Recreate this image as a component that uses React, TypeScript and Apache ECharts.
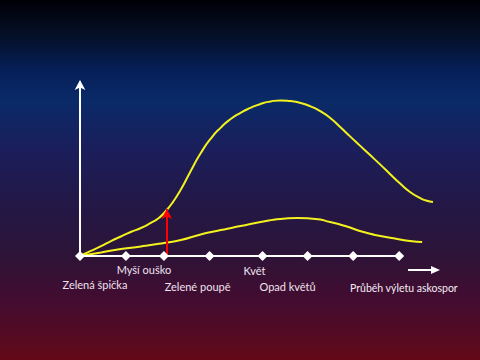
import React, { useEffect, useRef } from "react";
import * as echarts from "echarts";

// Stage positions along the time axis (0..100) and their names
const stageX = [0, 14.4, 26.3, 40.6, 57.2, 71.3, 85.6, 100];
const stageNames = ["", "Zelená špička", "Myší ouško", "Zelené poupě", "Květ", "Opad květů", "", ""];

// Upper curve [x, y]
const upperCurve: number[][] = [
  [0, 0], [3.4, 2.9], [6.6, 5.7], [9.7, 8.6], [12.8, 11.2], [15.9, 13.8],
  [19.1, 16.1], [22.2, 19.0], [24.7, 21.8], [26.9, 25.9], [29.1, 31.0],
  [31.6, 38.2], [34.7, 48.9], [37.8, 59.0], [40.9, 67.3], [44.1, 73.8],
  [47.2, 78.7], [50.3, 82.3], [53.4, 85.1], [56.6, 87.4], [59.7, 88.8],
  [62.8, 89.4], [65.9, 89.1], [69.1, 87.9], [72.2, 86.0], [75.3, 83.2],
  [78.4, 79.3], [81.6, 74.0], [84.7, 68.6], [87.8, 63.3], [90.9, 58.0],
  [94.1, 52.5], [97.2, 47.0], [100.3, 41.6], [103.4, 36.8], [106.6, 33.3],
  [108.4, 31.9], [110.6, 31.0],
];

// Lower curve [x, y]
const lowerCurve: number[][] = [
  [0, 0], [6.6, 2.0], [12.8, 4.0], [19.1, 5.5], [26.3, 7.5], [31.6, 9.2],
  [37.8, 12.4], [44.1, 14.9], [50.3, 17.2], [56.6, 19.5], [62.8, 21.3],
  [68.1, 21.8], [73.8, 21.3], [78.4, 19.5], [83.1, 17.2], [88.8, 13.8],
  [94.1, 11.5], [99.4, 9.8], [103.4, 8.6], [107.2, 8.0],
];

// Red arrow: stage x and height
const redArrowX = 27.2;
const redArrowTop = 27;

const axisTitle = "Průběh výletu askospor";

export default function App() {
  const ref = useRef<HTMLDivElement>(null);
  useEffect(() => {
    if (!ref.current) return;
    const chart = echarts.init(ref.current, undefined, { renderer: "svg" });
    const font = "Lato, 'Open Sans', sans-serif";
    // label placement relative to each diamond (staggered rows, in px)
    const labelOffsets: number[][] = [
      [0, 0], [-31, 28], [-20, 13], [-12, 30], [-8, 14], [-20, 30], [0, 0], [0, 0],
    ];
    chart.setOption({
      animation: false,
      backgroundColor: {
        type: "linear", x: 0, y: 0, x2: 0, y2: 1,
        colorStops: [
          { offset: 0, color: "#000006" },
          { offset: 0.1, color: "#051028" },
          { offset: 0.2, color: "#05205a" },
          { offset: 0.28, color: "#0a2a68" },
          { offset: 0.42, color: "#1b1e5a" },
          { offset: 0.55, color: "#221848" },
          { offset: 0.7, color: "#2c1438" },
          { offset: 0.83, color: "#420c30" },
          { offset: 0.94, color: "#560b22" },
          { offset: 1, color: "#640818" },
        ],
      },
      grid: { left: 80, right: 17, top: 82, bottom: 104 },
      xAxis: {
        type: "value", min: 0, max: 120,
        axisLine: { show: false }, axisTick: { show: false },
        axisLabel: { show: false }, splitLine: { show: false },
      },
      yAxis: {
        type: "value", min: 0, max: 100,
        axisLine: {
          show: true, onZero: false,
          lineStyle: { color: "#ffffff", width: 2 },
          symbol: ["none", "arrow"], symbolSize: [8, 10], symbolOffset: [0, 2],
        },
        axisTick: { show: false }, axisLabel: { show: false }, splitLine: { show: false },
      },
      graphic: [
        {
          type: "line", shape: { x1: 408, y1: 270, x2: 434, y2: 270 },
          style: { stroke: "#ffffff", lineWidth: 2 },
        },
        {
          type: "polygon", shape: { points: [[431, 266], [440, 270], [431, 274]] },
          style: { fill: "#ffffff" },
        },
        {
          type: "text", left: 350, top: 282,
          style: { text: axisTitle, fill: "#f4ecf4", font: `10.5px ${font}` },
        },
      ],
      series: [
        {
          type: "line", data: upperCurve, smooth: 0.6, showSymbol: false,
          lineStyle: { color: "#f2f21e", width: 2 }, z: 3,
        },
        {
          type: "line", data: lowerCurve, smooth: 0.6, showSymbol: false,
          lineStyle: { color: "#f2f21e", width: 2 }, z: 3,
        },
        {
          type: "line",
          data: stageX.map((x) => [x, 0]),
          showSymbol: false,
          lineStyle: { color: "#ffffff", width: 2 },
          z: 4,
          markLine: {
            silent: true, symbol: ["none", "arrow"], symbolSize: [8, 10],
            label: { show: false },
            lineStyle: { color: "#ff0000", width: 2, type: "solid" },
            data: [[{ coord: [redArrowX, 0] }, { coord: [redArrowX, redArrowTop] }]],
          },
        },
        {
          type: "scatter",
          data: stageX.map((x) => [x, 0]),
          symbol: "diamond", symbolSize: 10,
          itemStyle: { color: "#ffffff", opacity: 1 },
          z: 5,
        },
        {
          type: "custom",
          data: stageX.map((x, i) => [x, 0, i]),
          z: 6,
          silent: true,
          renderItem: (params: any, api: any) => {
            const idx = api.value(2);
            const name = stageNames[idx];
            if (!name) return null;
            const p = api.coord([api.value(0), api.value(1)]);
            const off = labelOffsets[idx];
            return {
              type: "text",
              x: p[0] + off[0],
              y: p[1] + off[1],
              style: {
                text: name,
                align: "center",
                verticalAlign: "middle",
                fill: "#f0e2f0",
                font: `11px ${font}`,
              },
            };
          },
        },
      ],
    });
    return () => chart.dispose();
  }, []);
  return <div ref={ref} style={{ width: 480, height: 360, position: "absolute", left: 0, top: 0 }} />;
}
